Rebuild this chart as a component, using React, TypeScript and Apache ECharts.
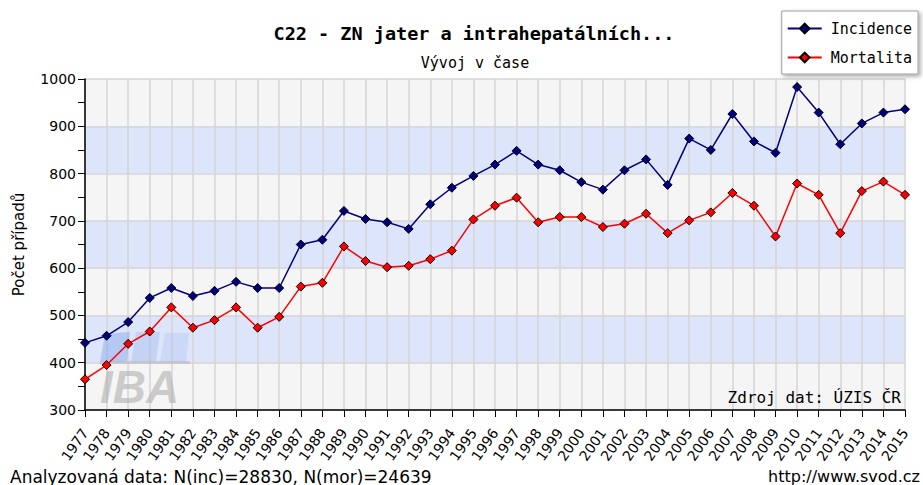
import React, { useEffect, useRef } from "react";
import * as echarts from "echarts";

const years = [
  "1977","1978","1979","1980","1981","1982","1983","1984","1985","1986",
  "1987","1988","1989","1990","1991","1992","1993","1994","1995","1996",
  "1997","1998","1999","2000","2001","2002","2003","2004","2005","2006",
  "2007","2008","2009","2010","2011","2012","2013","2014","2015",
];

const incidence = [
  442, 457, 486, 537, 558, 541, 552, 571, 558, 558,
  650, 660, 721, 704, 697, 683, 735, 770, 795, 819,
  848, 819, 807, 782, 766, 807, 830, 776, 874, 850,
  926, 868, 844, 983, 929, 862, 906, 929, 936,
];

const mortalita = [
  365, 395, 440, 466, 517, 474, 490, 517, 474, 497,
  561, 569, 646, 615, 602, 605, 619, 637, 703, 732,
  749, 697, 708, 708, 687, 694, 715, 674, 701, 718,
  759, 732, 667, 779, 755, 674, 763, 783, 755,
];

const seriesNames = ["Incidence", "Mortalita"];
const titleText = "C22 - ZN jater a intrahepatálních...";
const subtitleText = "Vývoj v čase";
const yAxisName = "Počet případů";
const sourceText = "Zdroj dat: ÚZIS ČR";
const footerLeft = "Analyzovaná data: N(inc)=28830, N(mor)=24639";
const footerRight = "http://www.svod.cz";

const MONO = "'DejaVu Sans Mono', monospace";
const SANS = "'DejaVu Sans', sans-serif";

export default function App() {
  const ref = useRef<HTMLDivElement>(null);
  useEffect(() => {
    if (!ref.current) return;
    const chart = echarts.init(ref.current, null, { renderer: "svg" });
    chart.setOption({
      animation: false,
      backgroundColor: "#ffffff",
      title: [
        {
          text: titleText,
          left: 469,
          top: 19,
          textAlign: "center",
          textStyle: { fontFamily: MONO, fontSize: 18.5, fontWeight: "bold", color: "#000" },
        },
        {
          text: subtitleText,
          left: 470,
          top: 50,
          textAlign: "center",
          textStyle: { fontFamily: MONO, fontSize: 15, fontWeight: "normal", color: "#000" },
        },
      ],
      legend: {
        data: seriesNames,
        orient: "vertical",
        right: 5,
        top: 11,
        padding: [10, 6, 9, 5],
        itemGap: 14,
        itemWidth: 34,
        itemHeight: 12,
        backgroundColor: "#ffffff",
        borderColor: "#a0a0a0",
        borderWidth: 1,
        shadowColor: "rgba(0,0,0,0.35)",
        shadowBlur: 4,
        shadowOffsetX: 2,
        shadowOffsetY: 2,
        textStyle: { fontFamily: MONO, fontSize: 15, color: "#000", padding: [0, 0, 0, 4] },
      },
      grid: { left: 85, right: 18, top: 79, bottom: 75 },
      xAxis: {
        type: "category",
        data: years,
        boundaryGap: false,
        axisLine: { show: true, lineStyle: { color: "#000", width: 1.5 } },
        axisTick: { show: true, length: 7, lineStyle: { color: "#000" } },
        axisLabel: {
          rotate: 55,
          interval: 0,
          fontFamily: SANS,
          fontSize: 14,
          color: "#000",
          margin: 20,
        },
        splitLine: { show: true, lineStyle: { color: "#d4d4d4", width: 1.5 } },
      },
      yAxis: {
        type: "value",
        min: 300,
        max: 1000,
        interval: 100,
        name: yAxisName,
        nameLocation: "middle",
        nameGap: 59,
        nameRotate: 90,
        nameTextStyle: { fontFamily: SANS, fontSize: 15, color: "#000" },
        axisLine: { show: true, lineStyle: { color: "#000", width: 1.5 } },
        axisTick: { show: true, length: 7, lineStyle: { color: "#000" } },
        minorTick: { show: true, splitNumber: 2, length: 7, lineStyle: { color: "#000" } },
        axisLabel: {
          fontFamily: SANS,
          fontSize: 14,
          color: "#000",
          margin: 9,
          formatter: (v: number) => String(v),
        },
        splitLine: { show: true, lineStyle: { color: "#d4d4d4", width: 1.5 } },
        splitArea: { show: true, areaStyle: { color: ["#f5f5f5", "#dde5fb"] } },
      },
      graphic: [
        {
          type: "group",
          z: 1,
          silent: true,
          children: [
            { type: "polygon", z: 1, shape: { points: [[100, 362], [105, 334], [130, 332], [127, 362]] }, style: { fill: "rgba(100,145,225,0.35)" } },
            { type: "polygon", z: 1, shape: { points: [[131, 362], [136, 332], [160, 332], [156, 362]] }, style: { fill: "rgba(130,165,230,0.28)" } },
            { type: "polygon", z: 1, shape: { points: [[160, 362], [165, 333], [189, 333], [186, 362]] }, style: { fill: "rgba(150,180,235,0.25)" } },
            { type: "rect", z: 1, shape: { x: 100, y: 361, width: 90, height: 3 }, style: { fill: "rgba(180,180,180,0.5)" } },
            {
              type: "text",
              z: 1,
              x: 100,
              y: 364,
              style: {
                text: "IBA",
                fontFamily: "'Liberation Sans', sans-serif",
                fontSize: 46,
                fontWeight: "bold",
                fontStyle: "italic",
                fill: "rgba(175,175,175,0.6)",
              },
            },
          ],
        },
        {
          type: "text",
          right: 22,
          top: 389,
          z: 10,
          style: { text: sourceText, fontFamily: MONO, fontSize: 16, fill: "#000" },
        },
        {
          type: "text",
          left: 10,
          top: 468,
          z: 10,
          style: { text: footerLeft, fontFamily: SANS, fontSize: 17, fill: "#000" },
        },
        {
          type: "text",
          right: 3,
          top: 468,
          z: 10,
          style: { text: footerRight, fontFamily: SANS, fontSize: 16, fill: "#000" },
        },
      ],
      series: [
        {
          name: seriesNames[0],
          type: "line",
          data: incidence,
          symbol: "diamond",
          symbolSize: 9,
          lineStyle: { color: "#000080", width: 1.5 },
          itemStyle: { color: "#000080", borderColor: "#000", borderWidth: 1 },
          z: 3,
        },
        {
          name: seriesNames[1],
          type: "line",
          data: mortalita,
          symbol: "diamond",
          symbolSize: 9,
          lineStyle: { color: "#ff0000", width: 1.5 },
          itemStyle: { color: "#ff0000", borderColor: "#000", borderWidth: 1 },
          z: 3,
        },
      ],
    });
    return () => chart.dispose();
  }, []);
  return <div ref={ref} style={{ width: 923, height: 485, position: "absolute", left: 0, top: 0 }} />;
}
